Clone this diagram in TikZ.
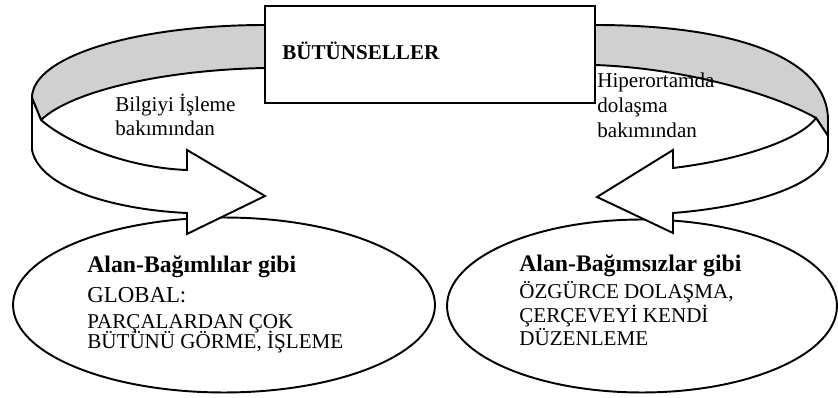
\documentclass[tikz,border=0pt]{standalone}
\usepackage{fontspec}
\setmainfont{Liberation Serif}
\usetikzlibrary{shapes.geometric}
\definecolor{seritgri}{RGB}{208,208,208}
\tikzset{
  cizgi/.style={line width=1.1pt, line join=miter},
  balon/.style={draw, ellipse, cizgi, fill=white, inner sep=0pt},
  yazi/.style={anchor=base west, inner sep=0pt, font=\fontsize{12}{14}\selectfont},
  baslik/.style={yazi, font=\fontsize{13.5}{16}\selectfont\bfseries},
}

\begin{document}
\begin{tikzpicture}[x=0.02cm, y=-0.02cm]
  \useasboundingbox (0,0) rectangle (838,398);
  % iki elips
  \node[balon, minimum width=8.44cm, minimum height=3.5cm] (sol) at (224,305) {};
  \node[balon, minimum width=7.8cm, minimum height=3.46cm] (sag) at (642,306) {};
  % sol serit ve ok
  \draw[cizgi, fill=seritgri] (265,25) .. controls (140,25) and (32,55) .. (32,98)
    -- (41,120) .. controls (70,92) and (160,70) .. (265,68) -- cycle;
  \draw[cizgi, fill=white] (32,98) -- (32,150) .. controls (40,190) and (120,210) .. (187,213)
    -- (187,234) -- (265,196) -- (187,150) -- (187,170)
    .. controls (130,168) and (70,145) .. (41,120) -- cycle;
  % sag serit ve ok
  \draw[cizgi, fill=seritgri] (595,25) .. controls (740,25) and (828,60) .. (828,120)
    -- (828,136) -- (816,118) .. controls (770,92) and (680,68) .. (595,65) -- cycle;
  \draw[cizgi, fill=white] (828,136) -- (828,150) .. controls (826,185) and (750,207) .. (673,213)
    -- (673,233) -- (597,197) -- (673,150) -- (673,168)
    .. controls (740,160) and (800,140) .. (816,118) -- cycle;
  % kutu
  \node[draw, cizgi, fill=white, minimum width=6.6cm, minimum height=1.94cm] (kutu) at (430,54.5) {};
  \node[yazi, font=\fontsize{12}{14}\selectfont\bfseries] (butun) at (282,60) {BÜTÜNSELLER};
  % serit yazilari
  \node[yazi] (bilgi1) at (115,112) {Bilgiyi İşleme};
  \node[yazi] (bilgi2) at (115,136) {bakımından};
  \node[yazi] (hiper1) at (597,88) {Hiperortamda};
  \node[yazi] (hiper2) at (597,113) {dolaşma};
  \node[yazi] (hiper3) at (597,138) {bakımından};
  % sol elips yazilari
  \node[baslik] (bagimli) at (87,273) {Alan-Bağımlılar gibi};
  \node[yazi, font=\fontsize{13}{15}\selectfont] (global) at (87,303) {GLOBAL:};
  \node[yazi] (parca) at (87,329) {PARÇALARDAN ÇOK};
  \node[yazi] (butunu) at (87,349) {BÜTÜNÜ GÖRME, İŞLEME};
  % sag elips yazilari
  \node[baslik] (bagimsiz) at (519,272) {Alan-Bağımsızlar gibi};
  \node[yazi] (ozgur) at (519,299) {ÖZGÜRCE DOLAŞMA,};
  \node[yazi] (cerceve) at (519,323) {ÇERÇEVEYİ KENDİ};
  \node[yazi] (duzen) at (519,345) {DÜZENLEME};
\end{tikzpicture}
\end{document}
